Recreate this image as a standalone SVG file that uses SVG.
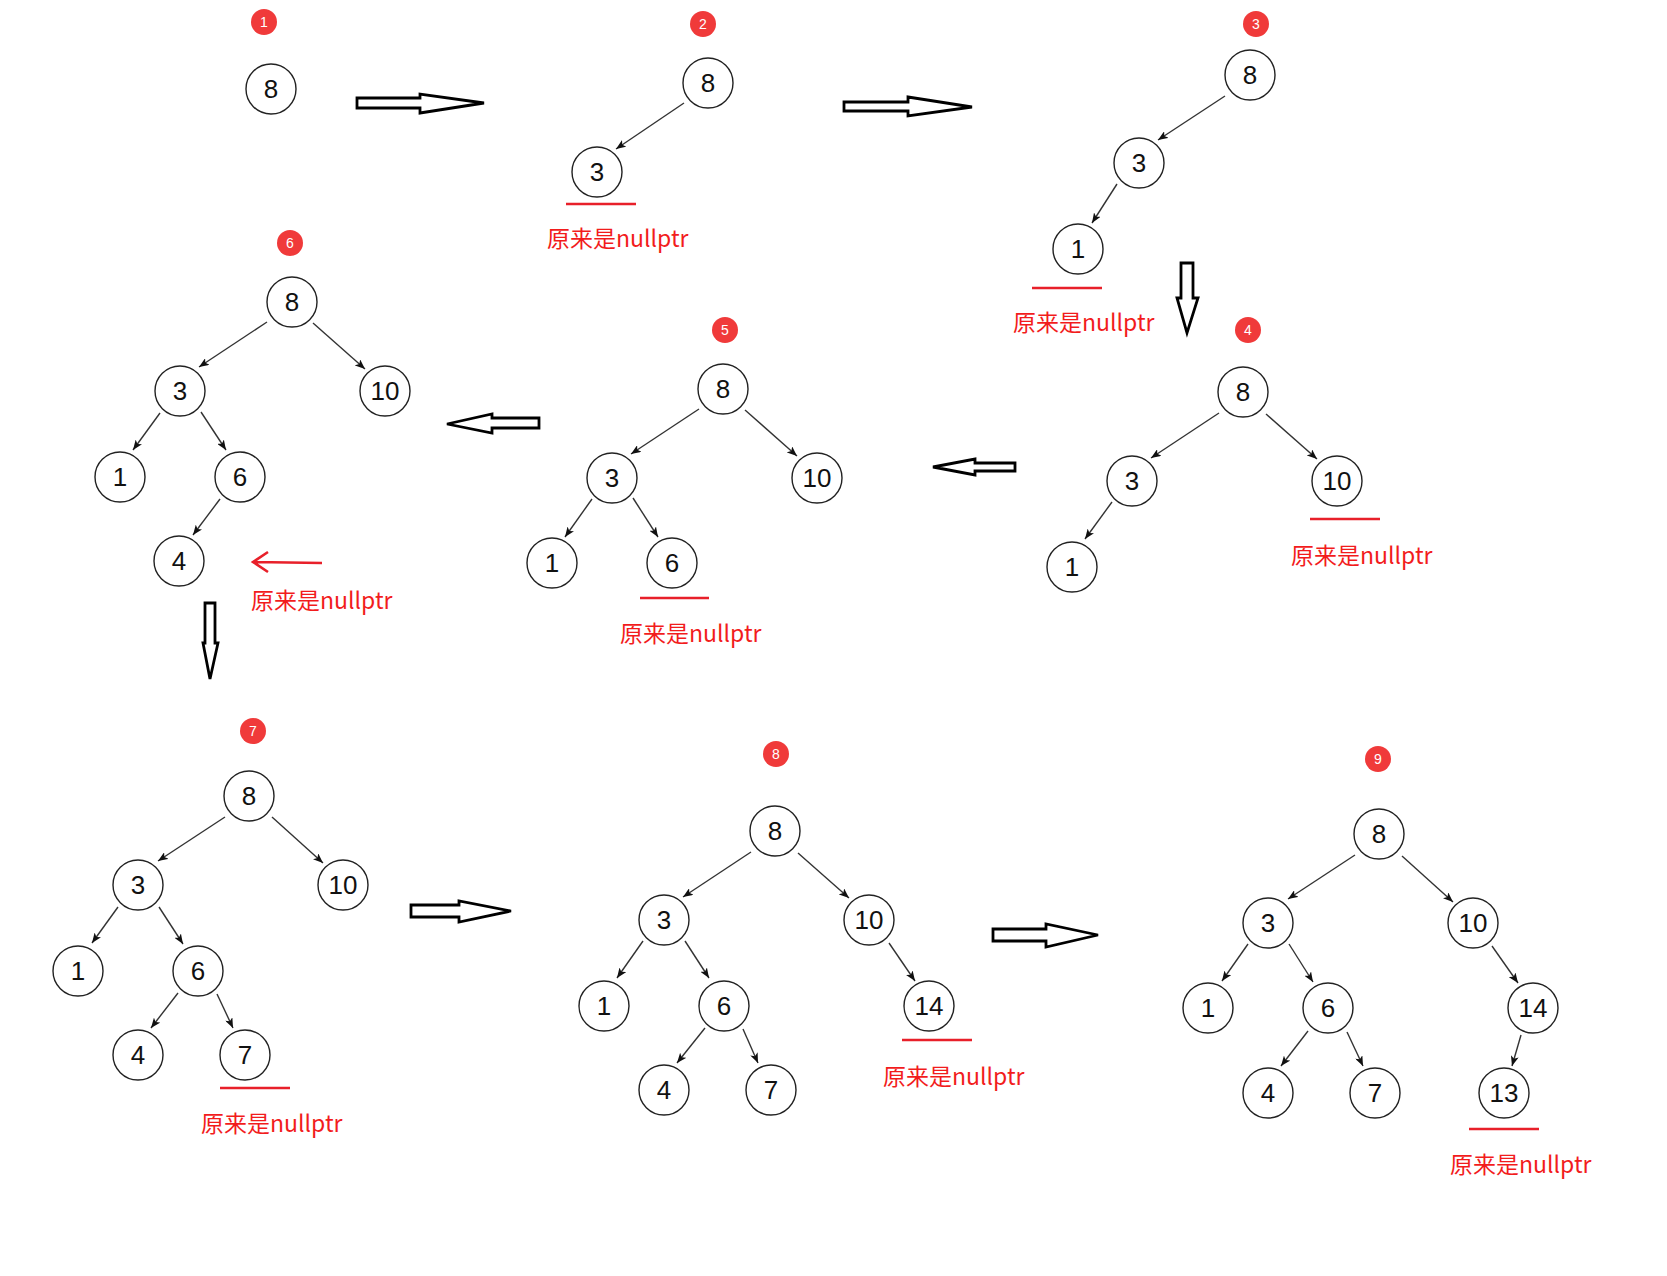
<svg xmlns="http://www.w3.org/2000/svg" width="1667" height="1276" viewBox="0 0 1667 1276">
<style>
.n circle{fill:#fff;stroke:#222;stroke-width:1.4}
.n text{font-family:"Liberation Sans",Arial,sans-serif;font-size:26px;fill:#111;text-anchor:middle}
.b circle{fill:#f03a3a;stroke:none}
.b text{font-family:"Liberation Sans",Arial,sans-serif;font-size:14px;fill:#fff;text-anchor:middle}
.e line{stroke:#333;stroke-width:1.4;marker-end:url(#ah)}
.ul{stroke:#e8202a;stroke-width:2.6}
.lbl{font-family:"Noto Sans CJK SC","Noto Sans",sans-serif;font-size:23px;fill:#f21c1c}
.big{fill:#fff;stroke:#000;stroke-width:2.8;stroke-linejoin:miter}
</style>
<defs>
<marker id="ah" viewBox="0 0 10 8" refX="10" refY="4" markerWidth="10" markerHeight="8" markerUnits="userSpaceOnUse" orient="auto">
<path d="M0,0 L10,4 L0,8 L2.5,4 z" fill="#111"/>
</marker>
</defs>
<rect width="1667" height="1276" fill="#fff"/>

<!-- step badges -->
<g id="badge1" class="b"><circle cx="264" cy="22" r="13"/><text x="264" y="27">1</text></g>
<g id="badge2" class="b"><circle cx="703" cy="24" r="13"/><text x="703" y="29">2</text></g>
<g id="badge3" class="b"><circle cx="1256" cy="24" r="13"/><text x="1256" y="29">3</text></g>
<g id="badge4" class="b"><circle cx="1248" cy="330" r="13"/><text x="1248" y="335">4</text></g>
<g id="badge5" class="b"><circle cx="725" cy="330" r="13"/><text x="725" y="335">5</text></g>
<g id="badge6" class="b"><circle cx="290" cy="243" r="13"/><text x="290" y="248">6</text></g>
<g id="badge7" class="b"><circle cx="253" cy="731" r="13"/><text x="253" y="736">7</text></g>
<g id="badge8" class="b"><circle cx="776" cy="754" r="13"/><text x="776" y="759">8</text></g>
<g id="badge9" class="b"><circle cx="1378" cy="759" r="13"/><text x="1378" y="764">9</text></g>

<!-- connectors -->
<g id="connectors" class="e">
<!-- tree 2 -->
<line x1="684" y1="103" x2="616" y2="149"/>
<!-- tree 3 -->
<line x1="1225" y1="96" x2="1158" y2="140"/>
<line x1="1117" y1="184" x2="1092" y2="223"/>
<!-- tree 4 -->
<line x1="1219" y1="413" x2="1151" y2="458"/>
<line x1="1266" y1="414" x2="1317" y2="459"/>
<line x1="1112" y1="502" x2="1085" y2="539"/>
<!-- tree 5 -->
<line x1="699" y1="409" x2="631" y2="454"/>
<line x1="745" y1="410" x2="797" y2="456"/>
<line x1="592" y1="499" x2="565" y2="537"/>
<line x1="633" y1="498" x2="658" y2="537"/>
<!-- tree 6 -->
<line x1="267" y1="322" x2="199" y2="367"/>
<line x1="313" y1="323" x2="365" y2="369"/>
<line x1="160" y1="413" x2="133" y2="450"/>
<line x1="201" y1="412" x2="226" y2="450"/>
<line x1="220" y1="499" x2="193" y2="535"/>
<!-- tree 7 -->
<line x1="225" y1="817" x2="158" y2="861"/>
<line x1="272" y1="817" x2="323" y2="863"/>
<line x1="118" y1="907" x2="92" y2="943"/>
<line x1="159" y1="907" x2="183" y2="944"/>
<line x1="178" y1="993" x2="151" y2="1028"/>
<line x1="217" y1="994" x2="233" y2="1028"/>
<!-- tree 8 -->
<line x1="751" y1="852" x2="683" y2="897"/>
<line x1="798" y1="853" x2="849" y2="898"/>
<line x1="643" y1="941" x2="617" y2="978"/>
<line x1="685" y1="941" x2="709" y2="978"/>
<line x1="889" y1="943" x2="915" y2="981"/>
<line x1="705" y1="1028" x2="677" y2="1063"/>
<line x1="743" y1="1029" x2="758" y2="1063"/>
<!-- tree 9 -->
<line x1="1355" y1="855" x2="1288" y2="899"/>
<line x1="1402" y1="856" x2="1453" y2="902"/>
<line x1="1248" y1="944" x2="1222" y2="981"/>
<line x1="1289" y1="944" x2="1313" y2="982"/>
<line x1="1492" y1="946" x2="1518" y2="983"/>
<line x1="1308" y1="1031" x2="1281" y2="1066"/>
<line x1="1347" y1="1032" x2="1363" y2="1066"/>
<line x1="1521" y1="1035" x2="1512" y2="1066"/>
</g>

<!-- big hollow transition arrows -->
<g id="transitions">
<polygon class="big" points="357,98 420,98 420,94 484,103 420,113 420,108 357,108"/>
<polygon class="big" points="844,102 908,102 908,97 972,107 908,116 908,111 844,111"/>
<polygon class="big" points="1181,263 1193,263 1193,298 1198,298 1187,333 1177,298 1181,298"/>
<polygon class="big" points="933,467 975,459 975,463 1015,463 1015,471 975,471 975,475"/>
<polygon class="big" points="447,424 492,414 492,418 539,418 539,428 492,428 492,433"/>
<polygon class="big" points="205,603 215,603 215,643 218,643 210,679 203,643 205,643"/>
<polygon class="big" points="411,905 459,905 459,901 511,911 459,922 459,917 411,917"/>
<polygon class="big" points="993,929 1046,929 1046,924 1098,935 1046,947 1046,941 993,941"/>
</g>

<!-- tree 1 -->
<g id="t1-n8" class="n"><circle cx="271" cy="89" r="25"/><text x="271" y="98">8</text></g>

<!-- tree 2 -->
<g id="t2-n8" class="n"><circle cx="708" cy="83" r="25"/><text x="708" y="92">8</text></g>
<g id="t2-n3" class="n"><circle cx="597" cy="172" r="25"/><text x="597" y="181">3</text></g>

<!-- tree 3 -->
<g id="t3-n8" class="n"><circle cx="1250" cy="75" r="25"/><text x="1250" y="84">8</text></g>
<g id="t3-n3" class="n"><circle cx="1139" cy="163" r="25"/><text x="1139" y="172">3</text></g>
<g id="t3-n1" class="n"><circle cx="1078" cy="249" r="25"/><text x="1078" y="258">1</text></g>

<!-- tree 4 -->
<g id="t4-n8" class="n"><circle cx="1243" cy="392" r="25"/><text x="1243" y="401">8</text></g>
<g id="t4-n3" class="n"><circle cx="1132" cy="481" r="25"/><text x="1132" y="490">3</text></g>
<g id="t4-n10" class="n"><circle cx="1337" cy="481" r="25"/><text x="1337" y="490">10</text></g>
<g id="t4-n1" class="n"><circle cx="1072" cy="567" r="25"/><text x="1072" y="576">1</text></g>

<!-- tree 5 -->
<g id="t5-n8" class="n"><circle cx="723" cy="389" r="25"/><text x="723" y="398">8</text></g>
<g id="t5-n3" class="n"><circle cx="612" cy="478" r="25"/><text x="612" y="487">3</text></g>
<g id="t5-n10" class="n"><circle cx="817" cy="478" r="25"/><text x="817" y="487">10</text></g>
<g id="t5-n1" class="n"><circle cx="552" cy="563" r="25"/><text x="552" y="572">1</text></g>
<g id="t5-n6" class="n"><circle cx="672" cy="563" r="25"/><text x="672" y="572">6</text></g>

<!-- tree 6 -->
<g id="t6-n8" class="n"><circle cx="292" cy="302" r="25"/><text x="292" y="311">8</text></g>
<g id="t6-n3" class="n"><circle cx="180" cy="391" r="25"/><text x="180" y="400">3</text></g>
<g id="t6-n10" class="n"><circle cx="385" cy="391" r="25"/><text x="385" y="400">10</text></g>
<g id="t6-n1" class="n"><circle cx="120" cy="477" r="25"/><text x="120" y="486">1</text></g>
<g id="t6-n6" class="n"><circle cx="240" cy="477" r="25"/><text x="240" y="486">6</text></g>
<g id="t6-n4" class="n"><circle cx="179" cy="561" r="25"/><text x="179" y="570">4</text></g>

<!-- tree 7 -->
<g id="t7-n8" class="n"><circle cx="249" cy="796" r="25"/><text x="249" y="805">8</text></g>
<g id="t7-n3" class="n"><circle cx="138" cy="885" r="25"/><text x="138" y="894">3</text></g>
<g id="t7-n10" class="n"><circle cx="343" cy="885" r="25"/><text x="343" y="894">10</text></g>
<g id="t7-n1" class="n"><circle cx="78" cy="971" r="25"/><text x="78" y="980">1</text></g>
<g id="t7-n6" class="n"><circle cx="198" cy="971" r="25"/><text x="198" y="980">6</text></g>
<g id="t7-n4" class="n"><circle cx="138" cy="1055" r="25"/><text x="138" y="1064">4</text></g>
<g id="t7-n7" class="n"><circle cx="245" cy="1055" r="25"/><text x="245" y="1064">7</text></g>

<!-- tree 8 -->
<g id="t8-n8" class="n"><circle cx="775" cy="831" r="25"/><text x="775" y="840">8</text></g>
<g id="t8-n3" class="n"><circle cx="664" cy="920" r="25"/><text x="664" y="929">3</text></g>
<g id="t8-n10" class="n"><circle cx="869" cy="920" r="25"/><text x="869" y="929">10</text></g>
<g id="t8-n1" class="n"><circle cx="604" cy="1006" r="25"/><text x="604" y="1015">1</text></g>
<g id="t8-n6" class="n"><circle cx="724" cy="1006" r="25"/><text x="724" y="1015">6</text></g>
<g id="t8-n14" class="n"><circle cx="929" cy="1006" r="25"/><text x="929" y="1015">14</text></g>
<g id="t8-n4" class="n"><circle cx="664" cy="1090" r="25"/><text x="664" y="1099">4</text></g>
<g id="t8-n7" class="n"><circle cx="771" cy="1090" r="25"/><text x="771" y="1099">7</text></g>

<!-- tree 9 -->
<g id="t9-n8" class="n"><circle cx="1379" cy="834" r="25"/><text x="1379" y="843">8</text></g>
<g id="t9-n3" class="n"><circle cx="1268" cy="923" r="25"/><text x="1268" y="932">3</text></g>
<g id="t9-n10" class="n"><circle cx="1473" cy="923" r="25"/><text x="1473" y="932">10</text></g>
<g id="t9-n1" class="n"><circle cx="1208" cy="1008" r="25"/><text x="1208" y="1017">1</text></g>
<g id="t9-n6" class="n"><circle cx="1328" cy="1008" r="25"/><text x="1328" y="1017">6</text></g>
<g id="t9-n14" class="n"><circle cx="1533" cy="1008" r="25"/><text x="1533" y="1017">14</text></g>
<g id="t9-n4" class="n"><circle cx="1268" cy="1093" r="25"/><text x="1268" y="1102">4</text></g>
<g id="t9-n7" class="n"><circle cx="1375" cy="1093" r="25"/><text x="1375" y="1102">7</text></g>
<g id="t9-n13" class="n"><circle cx="1504" cy="1093" r="25"/><text x="1504" y="1102">13</text></g>

<!-- red annotations -->
<g id="annotations">
<line class="ul" x1="566" y1="204" x2="636" y2="204"/>
<text class="lbl" x="547" y="247">原来是nullptr</text>
<line class="ul" x1="1032" y1="288" x2="1102" y2="288"/>
<text class="lbl" x="1013" y="331">原来是nullptr</text>
<line class="ul" x1="1310" y1="519" x2="1380" y2="519"/>
<text class="lbl" x="1291" y="564">原来是nullptr</text>
<line class="ul" x1="640" y1="598" x2="709" y2="598"/>
<text class="lbl" x="620" y="642">原来是nullptr</text>
<path d="M322,563 L253,562 M268,552 L253,562 L268,572" fill="none" stroke="#e8202a" stroke-width="2.6"/>
<text class="lbl" x="251" y="609">原来是nullptr</text>
<line class="ul" x1="220" y1="1088" x2="290" y2="1088"/>
<text class="lbl" x="201" y="1132">原来是nullptr</text>
<line class="ul" x1="902" y1="1040" x2="972" y2="1040"/>
<text class="lbl" x="883" y="1085">原来是nullptr</text>
<line class="ul" x1="1469" y1="1129" x2="1539" y2="1129"/>
<text class="lbl" x="1450" y="1173">原来是nullptr</text>
</g>
</svg>
